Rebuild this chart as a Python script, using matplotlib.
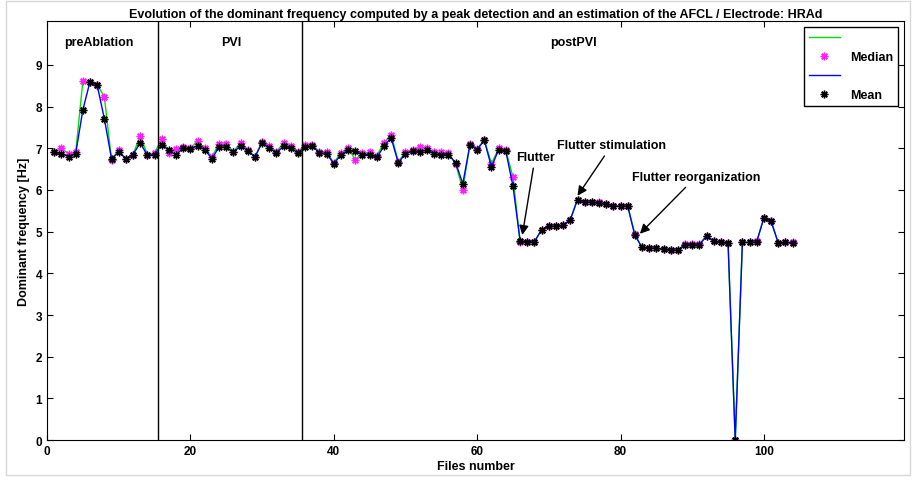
import numpy as np
import matplotlib
matplotlib.use('Agg')
import matplotlib.pyplot as plt
from matplotlib.lines import Line2D
from matplotlib.patches import Rectangle

plt.rcParams['font.family'] = ['Liberation Sans', 'DejaVu Sans']
plt.rcParams['font.weight'] = 'bold'

# dominant frequency per file (Hz), electrode HRAd
files = np.arange(1, 105)
freq_mean = [6.90, 6.87, 6.80, 6.87, 7.92, 8.60, 8.51, 7.71, 6.75, 6.91,
             6.75, 6.85, 7.13, 6.83, 6.85, 7.09, 6.95, 6.85, 7.00, 6.98,
             7.06, 6.97, 6.75, 7.03, 7.02, 6.90, 7.06, 6.94, 6.79, 7.13,
             7.01, 6.89, 7.05, 7.00, 6.89, 7.03, 7.05, 6.89, 6.87, 6.63,
             6.84, 6.95, 6.93, 6.85, 6.85, 6.78, 7.05, 7.25, 6.65, 6.87,
             6.93, 6.91, 6.96, 6.87, 6.85, 6.85, 6.65, 6.15, 7.09, 6.97,
             7.19, 6.55, 6.97, 6.93, 6.09, 4.77, 4.76, 4.76, 5.05, 5.13,
             5.13, 5.15, 5.29, 5.77, 5.71, 5.71, 5.69, 5.66, 5.61, 5.61,
             5.61, 4.91, 4.62, 4.61, 4.60, 4.58, 4.57, 4.55, 4.69, 4.69,
             4.69, 4.89, 4.77, 4.74, 4.73, 0.00, 4.74, 4.74, 4.76, 5.33,
             5.25, 4.73, 4.74, 4.73]
freq_median = [6.90, 7.00, 6.87, 6.90, 8.61, 8.60, 8.52, 8.24, 6.72, 6.95,
               6.75, 6.85, 7.30, 6.85, 6.88, 7.23, 6.88, 6.98, 7.03, 7.00,
               7.18, 7.00, 6.80, 7.10, 7.10, 6.92, 7.13, 6.96, 6.80, 7.15,
               7.05, 6.92, 7.13, 7.05, 6.92, 7.08, 7.08, 6.92, 6.92, 6.65,
               6.89, 7.00, 6.73, 6.88, 6.90, 6.82, 7.13, 7.33, 6.68, 6.90,
               6.96, 7.02, 7.00, 6.90, 6.90, 6.88, 6.63, 6.01, 7.10, 6.99,
               7.20, 6.63, 7.00, 6.95, 6.31, 4.74, 4.75, 4.76, 5.05, 5.13,
               5.14, 5.15, 5.29, 5.77, 5.72, 5.72, 5.70, 5.67, 5.62, 5.62,
               5.62, 4.94, 4.62, 4.61, 4.60, 4.58, 4.57, 4.57, 4.70, 4.70,
               4.70, 4.90, 4.78, 4.75, 4.73, 0.00, 4.75, 4.75, 4.77, 5.33,
               5.26, 4.73, 4.75, 4.74]

# phase boundaries and labels
phase_edges = [15.5, 35.5]
phase_names = ['preAblation', 'PVI', 'postPVI']
phase_label_x = [7.2, 25.7, 73.5]

# annotations: (text, text pos, arrow tip)
notes = [('Flutter', (65.4, 6.80), (66.3, 4.92)),
         ('Flutter stimulation', (71.2, 7.08), (74.0, 5.86)),
         ('Flutter reorganization', (81.6, 6.32), (82.7, 4.95))]

fig = plt.figure(figsize=(9.18, 4.81), dpi=100)
ax = fig.add_axes([0.0512, 0.083, 0.934, 0.871])

star = (8, 2, 0)
ms = 5.5
ax.plot(files, freq_median, color='#00e000', lw=1.0)
ax.plot(files, freq_median, ls='none', marker=star, ms=ms, mew=1.0,
        color='#ff20ff')
ax.plot(files, freq_mean, color='#0000ff', lw=1.0)
ax.plot(files, freq_mean, ls='none', marker=star, ms=ms, mew=1.0,
        color='black')

for xe in phase_edges:
    ax.axvline(xe, color='black', lw=1.0)
for name, xp in zip(phase_names, phase_label_x):
    ax.text(xp, 9.55, name, ha='center', va='center', fontsize=9,
            fontweight='bold')

for txt, pos, tip in notes:
    ax.annotate(txt, xy=tip, xytext=pos, fontsize=9, fontweight='bold',
                ha='left', va='center',
                arrowprops=dict(arrowstyle='-|>', color='black', lw=1.0,
                                mutation_scale=14, shrinkA=2, shrinkB=0))

ax.set_xlim(0, 119.6)
ax.set_ylim(0, 10.05)
ax.set_xticks(np.arange(0, 101, 20))
ax.set_yticks(np.arange(0, 10, 1))
ax.tick_params(direction='in', top=True, right=True, length=4,
               labelsize=8.5, width=0.8)
for lab in ax.get_xticklabels() + ax.get_yticklabels():
    lab.set_fontweight('bold')
for sp in ax.spines.values():
    sp.set_linewidth(0.8)

ax.set_title('Evolution of the dominant frequency computed by a peak detection '
             'and an estimation of the AFCL / Electrode: HRAd',
             fontsize=9, fontweight='bold', pad=3)
ax.set_xlabel('Files number', fontsize=9, fontweight='bold', labelpad=2)
ax.set_ylabel('Dominant frequency [Hz]', fontsize=9, fontweight='bold',
              labelpad=4)

handles = [Line2D([], [], color='#00e000', lw=1.0),
           Line2D([], [], ls='none', marker=star, ms=ms, mew=1.0,
                  color='#ff20ff'),
           Line2D([], [], color='#0000ff', lw=1.0),
           Line2D([], [], ls='none', marker=star, ms=ms, mew=1.0,
                  color='black')]
leg = ax.legend(handles, ['', 'Median', '', 'Mean'], loc='upper right',
                fontsize=9, fancybox=False, framealpha=1,
                edgecolor='black', borderaxespad=0.5, handlelength=2.5,
                labelspacing=0.55)
leg.get_frame().set_linewidth(1.0)
for t in leg.get_texts():
    t.set_fontweight('bold')

fig.patches.append(Rectangle((0.006, 0.01), 0.985, 0.985,
                             transform=fig.transFigure, fill=False,
                             edgecolor='#d8d8d8', lw=1.0))

fig.savefig('out.png', dpi=100)
